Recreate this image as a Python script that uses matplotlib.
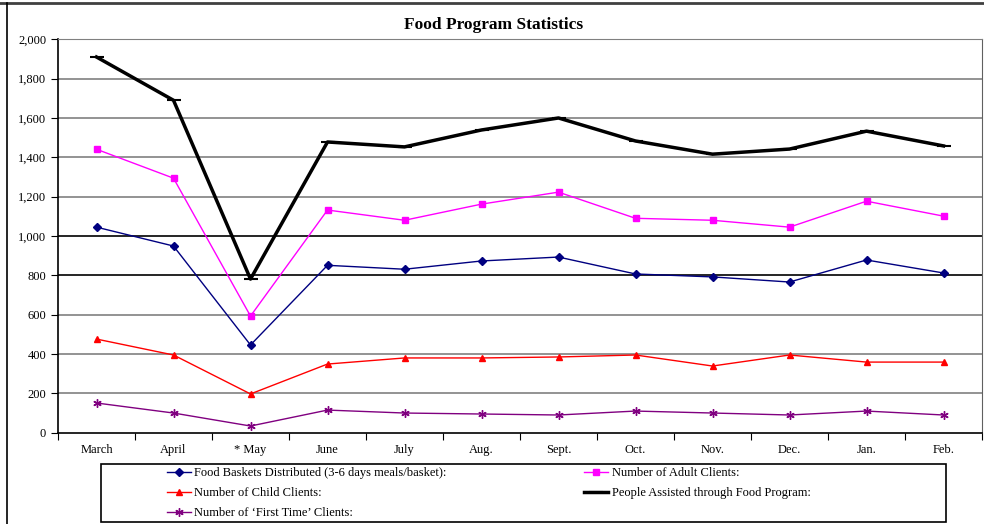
import matplotlib.pyplot as plt
import numpy as np

plt.rcParams['font.family'] = ['Liberation Serif', 'DejaVu Serif']

months = ['March', 'April', '* May', 'June', 'July', 'Aug.', 'Sept.',
          'Oct.', 'Nov.', 'Dec.', 'Jan.', 'Feb.']
baskets = [1045, 949, 446, 851, 831, 873, 893, 807, 792, 766, 878, 812]
adults = [1441, 1294, 593, 1132, 1080, 1162, 1223, 1090, 1080, 1045, 1177, 1101]
children = [476, 395, 197, 349, 380, 380, 385, 395, 339, 395, 359, 359]
people = [1910, 1690, 781, 1478, 1453, 1539, 1600, 1483, 1416, 1442, 1533, 1458]
first_time = [151, 100, 34, 115, 100, 95, 90, 110, 100, 90, 110, 90]

x = np.arange(len(months))

fig = plt.figure(figsize=(9.84, 5.24), dpi=100)
ax = fig.add_axes([58/984, 1-432.7/524, (982-58)/984, (432.7-39.3)/524])

# gridlines (two of them look black in the original)
for v in range(200, 2001, 200):
    c = 'black' if v in (800, 1000) else '#808080'
    ax.axhline(v, color=c, lw=1.2, zorder=1)

l1, = ax.plot(x, baskets, color='#000080', marker='D', ms=4, lw=1,
              label='Food Baskets Distributed (3-6 days meals/basket):', zorder=3)
l2, = ax.plot(x, adults, color='#FF00FF', marker='s', ms=5, lw=1,
              label='Number of Adult Clients:', zorder=3)
l3, = ax.plot(x, children, color='#FF0000', marker='^', ms=5, lw=1,
              label='Number of Child Clients:', zorder=3)
l4, = ax.plot(x, people, color='black', marker='_', ms=10, mew=1.5, lw=2.5,
              label='People Assisted through Food Program:', zorder=4)
l5, = ax.plot(x, first_time, color='#800080', marker=(6, 2, 0), ms=6, mew=1, lw=1,
              label="Number of \u2018First Time\u2019 Clients:", zorder=3)

ax.set_xlim(-0.5, 11.5)
ax.set_ylim(0, 2000)
ax.set_yticks(range(0, 2001, 200))
ax.set_yticklabels([f'{v:,}' for v in range(0, 2001, 200)])
ax.set_xticks(np.arange(-0.5, 12, 1))
ax.set_xticklabels([])
ax.set_xticks(x, minor=True)
ax.set_xticklabels(months, minor=True)
ax.tick_params(axis='x', which='minor', length=0, pad=8, labelsize=9)
ax.tick_params(axis='x', which='major', length=5, direction='out')
ax.tick_params(axis='y', length=5, direction='out', labelsize=9)
ax.spines['top'].set_color('#808080')
ax.spines['right'].set_color('#606060')
ax.spines['left'].set_linewidth(1.2)
ax.spines['bottom'].set_linewidth(1.2)

fig.text(494/984, 1-25/524, 'Food Program Statistics', ha='center', va='center',
         fontsize=12.5, fontweight='bold')

# legend box drawn by hand, entries placed inside it
fig.add_artist(plt.Rectangle((101/984, 2/524), (946-101)/984, (522-464)/524,
                             transform=fig.transFigure, fill=False,
                             edgecolor='black', lw=1.2))
leg = fig.legend(handles=[l1, l3, l5, l2, l4], ncol=2, loc='upper left',
                 bbox_to_anchor=(167/984, 1-467/524), frameon=False,
                 fontsize=9, handlelength=1.9, handletextpad=0.3,
                 labelspacing=0.65, columnspacing=11, borderpad=0,
                 borderaxespad=0)

# outer chart border
fig.add_artist(plt.Line2D([0, 1], [1-3/524, 1-3/524], color='#404040', lw=2))
fig.add_artist(plt.Line2D([7/984, 7/984], [0, 1-3/524], color='black', lw=1.2))

fig.savefig('out.png', dpi=100)
